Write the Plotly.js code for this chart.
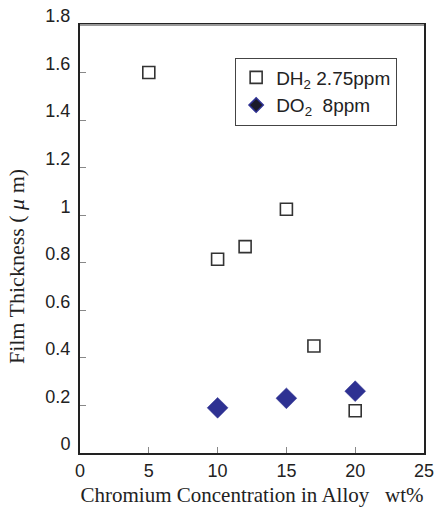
<!DOCTYPE html>
<html>
<head>
<meta charset="utf-8">
<script src="https://cdn.plot.ly/plotly-3.0.1.min.js"></script>
<style>html,body{margin:0;padding:0;background:#fff;}#chart{width:438px;height:521px;}</style>
</head>
<body>
<div id="chart"></div>
<script>
// Data
var dh2Chromium = [5, 10, 12, 15, 17, 20];
var dh2Thickness = [1.60, 0.815, 0.868, 1.025, 0.45, 0.178];
var do2Chromium = [10, 15, 20];
var do2Thickness = [0.19, 0.23, 0.26];
var xTicks = [0, 5, 10, 15, 20, 25];
var yTicks = [0, 0.2, 0.4, 0.6, 0.8, 1, 1.2, 1.4, 1.6, 1.8];
var yTickLabels = ['0', '0.2', '0.4', '0.6', '0.8', '1', '1.2', '1.4', '1.6', '1.8'];
var seriesNames = ['DH<sub>2</sub> 2.75ppm', 'DO<sub>2</sub>&nbsp;&nbsp;8ppm'];

var traces = [
  {
    x: dh2Chromium, y: dh2Thickness, type: 'scatter', mode: 'markers',
    name: seriesNames[0],
    marker: {symbol: 'square', size: 12, color: '#ffffff', line: {color: '#333333', width: 1.6}}
  },
  {
    x: do2Chromium, y: do2Thickness, type: 'scatter', mode: 'markers',
    name: seriesNames[1], showlegend: false,
    marker: {symbol: 'diamond', size: 16, color: '#2E3192', line: {color: '#2E3192', width: 0.5}}
  },
  {
    x: [null], y: [null], type: 'scatter', mode: 'markers',
    name: seriesNames[1], showlegend: true,
    marker: {symbol: 'diamond', size: 11, color: '#1a1a2a', line: {color: '#2E3192', width: 1.5}}
  }
];

var layout = {
  width: 438, height: 521,
  margin: {l: 80, r: 14, t: 25, b: 68},
  paper_bgcolor: '#ffffff', plot_bgcolor: '#ffffff',
  font: {family: 'Liberation Sans, Arial, sans-serif', color: '#222222'},
  showlegend: true,
  legend: {
    x: 0.451, y: 0.924, xanchor: 'left', yanchor: 'top',
    bordercolor: '#444444', borderwidth: 1, bgcolor: '#ffffff',
    font: {size: 19, family: 'Liberation Sans, Arial, sans-serif', color: '#222222'},
    itemwidth: 30, tracegroupgap: 0
  },
  xaxis: {
    range: [0, 25], tickvals: xTicks, ticktext: xTicks.map(String),
    ticks: 'inside', ticklen: 6, tickcolor: '#888888', tickwidth: 1,
    showline: true, linecolor: '#222222', linewidth: 2, mirror: true,
    showgrid: false, zeroline: false,
    tickfont: {size: 18, family: 'Liberation Sans, Arial, sans-serif', color: '#222222'},
    title: {text: 'Chromium Concentration in Alloy&nbsp;&nbsp;&nbsp;wt%', standoff: 8,
      font: {size: 21, family: 'Liberation Serif, Times New Roman, serif', color: '#222222'}}
  },
  yaxis: {
    range: [0, 1.8], tickvals: yTicks, ticktext: yTickLabels,
    ticks: 'inside', ticklen: 6, tickcolor: '#888888', tickwidth: 1,
    ticklabelshift: -9, ticklabelstandoff: 4,
    showline: true, linecolor: '#222222', linewidth: 2, mirror: true,
    showgrid: false, zeroline: false,
    tickfont: {size: 18, family: 'Liberation Sans, Arial, sans-serif', color: '#222222'},
    title: {text: 'Film Thickness ( <i>μ</i> m)&nbsp;&nbsp;&nbsp;&nbsp;&nbsp;&nbsp;&nbsp;&nbsp;&nbsp;&nbsp;', standoff: 15,
      font: {size: 22, family: 'Liberation Serif, Times New Roman, serif', color: '#222222'}}
  },
  shapes: [
    {type: 'line', xref: 'paper', yref: 'paper', x0: 0, x1: 1, y0: 1, y1: 1,
     line: {color: '#999999', width: 2}}
  ]
};

Plotly.newPlot('chart', traces, layout, {displayModeBar: false, staticPlot: true});
</script>
</body>
</html>
